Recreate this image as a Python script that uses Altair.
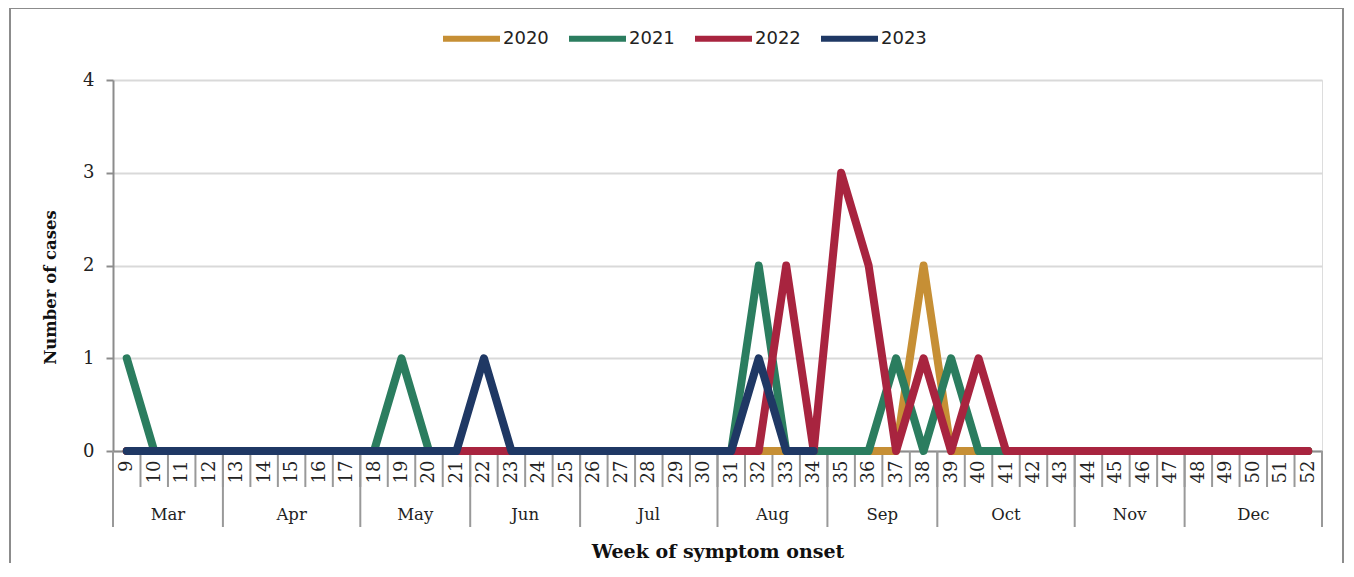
import altair as alt
import pandas as pd

weeks = list(range(9, 53))
years = ["2020", "2021", "2022", "2023"]
colors = ["#C68F35", "#2B7D5F", "#A8243F", "#1F3864"]

# cases per week (weeks 9..52); 2023 reported up to week 34
cases_2020 = [0]*29 + [2] + [0]*14
cases_2021 = [1, 0, 0, 0, 0, 0, 0, 0, 0, 0, 1, 0, 0, 0, 0, 0, 0, 0, 0, 0, 0, 0, 0,
              2, 0, 0, 0, 0, 1, 0, 1, 0, 0, 0, 0, 0, 0, 0, 0, 0, 0, 0, 0, 0]
cases_2022 = [0, 0, 0, 0, 0, 0, 0, 0, 0, 0, 0, 0, 0, 0, 0, 0, 0, 0, 0, 0, 0, 0, 0,
              0, 2, 0, 3, 2, 0, 1, 0, 1, 0, 0, 0, 0, 0, 0, 0, 0, 0, 0, 0, 0]
cases_2023 = [0, 0, 0, 0, 0, 0, 0, 0, 0, 0, 0, 0, 0, 1, 0, 0, 0, 0, 0, 0, 0, 0, 0,
              1, 0, 0]

months = ["Mar", "Apr", "May", "Jun", "Jul", "Aug", "Sep", "Oct", "Nov", "Dec"]
month_first_week = [9, 13, 18, 22, 26, 31, 35, 39, 44, 48]
month_last_week = [12, 17, 21, 25, 30, 34, 38, 43, 47, 52]

rows = []
for yr, series in zip(years, [cases_2020, cases_2021, cases_2022, cases_2023]):
    for w, v in zip(weeks, series):
        rows.append({"week": w, "cases": v, "year": yr})
df = pd.DataFrame(rows)

month_df = pd.DataFrame({
    "month": months,
    "start": [w - 0.5 for w in month_first_week],
    "end": [w + 0.5 for w in month_last_week],
})
month_df["mid"] = (month_df["start"] + month_df["end"]) / 2
bounds_df = pd.DataFrame({"b": sorted(set(month_df["start"]).union(month_df["end"]))})
week_sep_df = pd.DataFrame({"b": [w + 0.5 for w in weeks[:-1]]})

W, H = 1209, 371
SERIF = "DejaVu Serif"

xscale = alt.Scale(domain=[8.5, 52.5], nice=False, zero=False)
xaxis = alt.Axis(values=weeks, labelAngle=270, ticks=False, grid=False,
                 labelFont=SERIF, labelFontSize=18, labelColor="#222",
                 labelPadding=9, domainColor="#8c8c8c", domainWidth=2,
                 title="Week of symptom onset", titleFont=SERIF,
                 titleFontSize=19, titleFontWeight="bold", titleColor="#111",
                 titleBaseline="middle", titleY=100, labelFlush=False,
                 labelOverlap=False, labelBound=False)

lines = alt.Chart(df).mark_line(strokeWidth=8, strokeCap="round", strokeJoin="round").encode(
    x=alt.X("week:Q", scale=xscale, axis=xaxis),
    y=alt.Y("cases:Q", scale=alt.Scale(domain=[0, 4], nice=False),
            axis=alt.Axis(values=[0, 1, 2, 3, 4], grid=True, gridColor="#d9d9d9",
                          gridWidth=2, tickSize=7, tickColor="#8c8c8c", tickWidth=2,
                          domainColor="#8c8c8c", domainWidth=2, labelPadding=12,
                          labelFont=SERIF, labelFontSize=18, labelColor="#222",
                          title="Number of cases", titleFont=SERIF, titleFontSize=16.5,
                          titleFontWeight="bold", titleColor="#111",
                          titleX=-63, titleY=207, titleBaseline="middle")),
    color=alt.Color("year:N", scale=alt.Scale(domain=years, range=colors),
                    legend=alt.Legend(title=None, orient="none", direction="horizontal",
                                      legendX=327, legendY=-73, symbolType="stroke",
                                      symbolSize=3249, symbolStrokeWidth=6,
                                      labelFont="DejaVu Sans", labelFontSize=18,
                                      labelColor="#222", labelOffset=0,
                                      columnPadding=8)),
)

week_seps = alt.Chart(week_sep_df).mark_rule(color="#999999", strokeWidth=2).encode(
    x=alt.X("b:Q", scale=xscale, axis=xaxis), y=alt.value(H), y2=alt.value(H + 36))

month_seps = alt.Chart(bounds_df).mark_rule(color="#999999", strokeWidth=2).encode(
    x=alt.X("b:Q", scale=xscale, axis=xaxis), y=alt.value(H), y2=alt.value(H + 76))

month_labels = alt.Chart(month_df).mark_text(font=SERIF, fontSize=16.5, color="#222",
                                              baseline="middle").encode(
    x=alt.X("mid:Q", scale=xscale, axis=xaxis), y=alt.value(H + 64), text="month:N")

frame = alt.Chart(pd.DataFrame({"f": [0]})).mark_rect(
    fill=None, stroke="#8c8c8c", strokeWidth=2).encode(
    x=alt.value(-103), x2=alt.value(1230), y=alt.value(-72), y2=alt.value(520))

chart = alt.layer(frame, week_seps, month_seps, month_labels, lines).properties(
    width=W, height=H,
    autosize=alt.AutoSizeParams(type="none"),
    padding={"left": 105, "top": 72, "right": 24, "bottom": 112},
).configure_view(stroke=None).configure(background="white")

chart.save("out.html", embed_options={"renderer": "svg", "actions": False})
